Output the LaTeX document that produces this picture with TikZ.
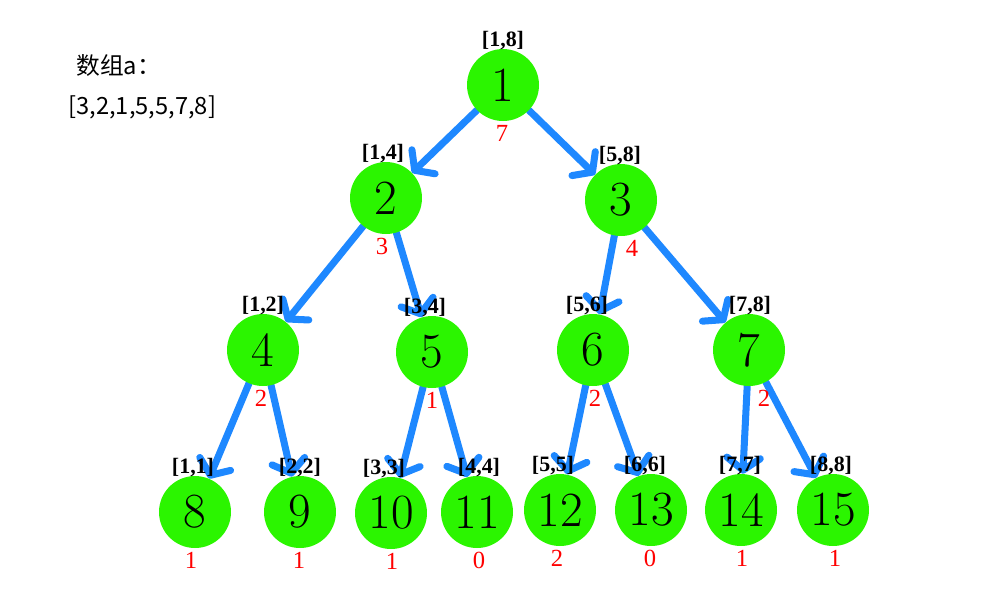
\documentclass[tikz,border=0pt]{standalone}
\usepackage{fontspec}
\newfontfamily\cjk{Noto Sans CJK SC}
\newfontfamily\tnr{Liberation Serif}
\usetikzlibrary{arrows.meta,backgrounds}

\begin{document}
\begin{tikzpicture}[x=0.02cm, y=-0.02cm, >={Straight Barb[length=7pt,width=19pt,round]}]
  \definecolor{nodegreen}{RGB}{43,245,0}
  \definecolor{edgeblue}{RGB}{30,136,255}
  \tikzset{
    segnode/.style={circle, fill=nodegreen, minimum size=1.44cm, inner sep=0pt,
      font=\fontsize{28}{30}\selectfont},
    rangelbl/.style={font=\tnr\bfseries\fontsize{12.5}{14}\selectfont, inner sep=0pt},
    sumlbl/.style={text=red, font=\tnr\fontsize{14}{16}\selectfont, inner sep=0pt},
    treearrow/.style={edgeblue, line width=4pt, line cap=round, ->},
    notetext/.style={font=\cjk\fontsize{13.5}{16}\selectfont, anchor=west, inner sep=0pt}
  }
  \useasboundingbox (0,0) rectangle (1000,600);

  \node[notetext] (title) at (76,65) {数组a：};
  \node[notetext] (arr) at (68,107) {[3,2,1,5,5,7,8]};

  % node / x / y / range / sum / range dx / sum dx
  \foreach \n/\x/\y/\rng/\val/\rx/\sx in {
      1/503/85/{[1,8]}/7/0/-1, 2/386/198/{[1,4]}/3/-3/-4, 3/621/200/{[5,8]}/4/-1/11,
      4/263/350/{[1,2]}/2/0/-2, 5/432/352/{[3,4]}/1/-7/0, 6/593/350/{[5,6]}/2/-6/2,
      7/749/350/{[7,8]}/2/1/15,
      8/195/512/{[1,1]}/1/-2/-4, 9/300/512/{[2,2]}/1/0/-1, 10/391/513/{[3,3]}/1/-7/1,
      11/477/512/{[4,4]}/0/2/2, 12/560/510/{[5,5]}/2/-7/-3, 13/651/510/{[6,6]}/0/-6/-1,
      14/741/510/{[7,7]}/1/-1/1, 15/833/510/{[8,8]}/1/-2/2} {
    \node[segnode] (n\n) at (\x,\y) {\n};
    \node[rangelbl] (r\n) at (\x+\rx,\y-44) {\rng};
    \node[sumlbl] (s\n) at (\x+\sx,\y+48) {\val};
  }

  \begin{pgfonlayer}{background}
    \foreach \a/\b in {1/2,1/3,2/4,2/5,3/6,3/7,4/8,4/9,5/10,5/11,6/12,6/13,7/14,7/15}
      \draw[treearrow] (n\a) -- (n\b);
  \end{pgfonlayer}

\end{tikzpicture}
\end{document}
